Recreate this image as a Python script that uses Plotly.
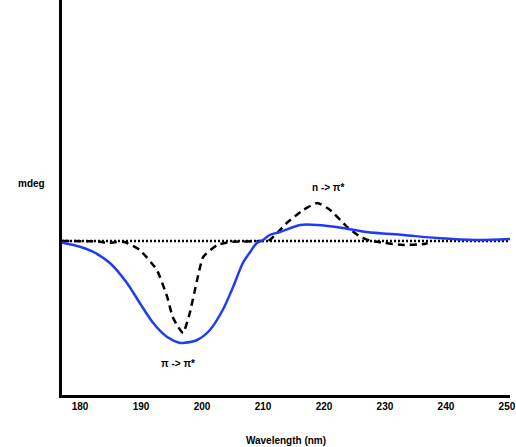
import plotly.graph_objects as go

# Blue (solid) CD spectrum
blue_wl = [177.05, 180.0, 182.1, 184.9, 187.7, 189.8, 192.0, 194.3, 196.4, 196.9,
           199.2, 201.3, 203.4, 205.1, 206.7, 207.9, 209.0, 210.0, 211.1, 212.8,
           216.1, 218.9, 223.1, 227.0, 233.0, 238.5, 245.0, 250.5]
blue_val = [-0.17, -0.57, -1.07, -2.2, -4.2, -6.2, -8.2, -9.6, -10.2, -10.2,
            -9.9, -8.9, -6.9, -4.6, -2.2, -1.1, -0.2, 0.1, 0.6, 0.9,
            1.6, 1.6, 1.3, 0.9, 0.6, 0.3, 0.1, 0.2]

# Dashed black spectrum
dash_wl = [177.05, 183.0, 184.5, 186.0, 187.3, 189.8, 192.6, 194.3, 195.2, 196.1,
           196.9, 198.0, 199.2, 200.2, 202.5, 204.6, 209.8, 211.1, 213.9, 216.6,
           218.9, 221.0, 223.8, 226.0, 227.5, 230.0, 233.0, 236.4, 237.0]
dash_val = [0.0, -0.05, -0.2, -0.1, -0.1, -0.9, -2.9, -5.6, -7.6, -8.6,
            -9.2, -7.2, -3.9, -1.6, -0.4, -0.1, 0.0, 0.1, 1.8, 3.1,
            3.8, 3.1, 1.4, 0.4, 0.05, -0.2, -0.4, -0.3, -0.2]

# Dotted baseline
base_wl = [177.05, 250.5]
base_val = [0.0, 0.0]

tick_vals = [180, 190, 200, 210, 220, 230, 240, 250]
tick_text = ["180", "190", "200", "210", "220", "230", "240", "250"]

fig = go.Figure()
fig.add_trace(go.Scatter(x=base_wl, y=base_val, mode="lines",
                         line=dict(color="black", width=2.5, dash="2px,2px"), hoverinfo="skip"))
fig.add_trace(go.Scatter(x=dash_wl, y=dash_val, mode="lines",
                         line=dict(color="black", width=2.5, dash="7px,5px", shape="spline", smoothing=0.5)))
fig.add_trace(go.Scatter(x=blue_wl, y=blue_val, mode="lines",
                         line=dict(color="#1f3cf5", width=2.5, shape="spline", smoothing=0.8)))

font = dict(family="Liberation Sans, Arial, sans-serif", size=10, color="black")

fig.add_annotation(x=220.7, y=5.4, text="<b>n -> π*</b>", showarrow=False, font=font)
fig.add_annotation(x=196.1, y=-12.2, text="<b>π -> π*</b>", showarrow=False, font=font)
fig.add_annotation(xref="paper", yref="paper", x=-0.068, y=0.535, text="<b>mdeg</b>",
                   showarrow=False, font=font, xanchor="center")

fig.update_layout(
    width=516, height=447,
    margin=dict(l=62, r=6, t=0, b=52),
    plot_bgcolor="white", paper_bgcolor="white",
    showlegend=False,
    font=font,
    xaxis=dict(range=[177.05, 250.5], tickvals=tick_vals, ticktext=[f"<b>{t}</b>" for t in tick_text],
               showgrid=False, zeroline=False, showline=True, linecolor="black", linewidth=2.5,
               ticks="", ticklen=0,
               title=dict(text="<b>Wavelength (nm)</b>", font=font, standoff=27)),
    yaxis=dict(range=[-15.4, 24.1], showticklabels=False, showgrid=False, zeroline=False,
               showline=True, linecolor="black", linewidth=2.5, ticks=""),
)

fig.write_html("out.html")
